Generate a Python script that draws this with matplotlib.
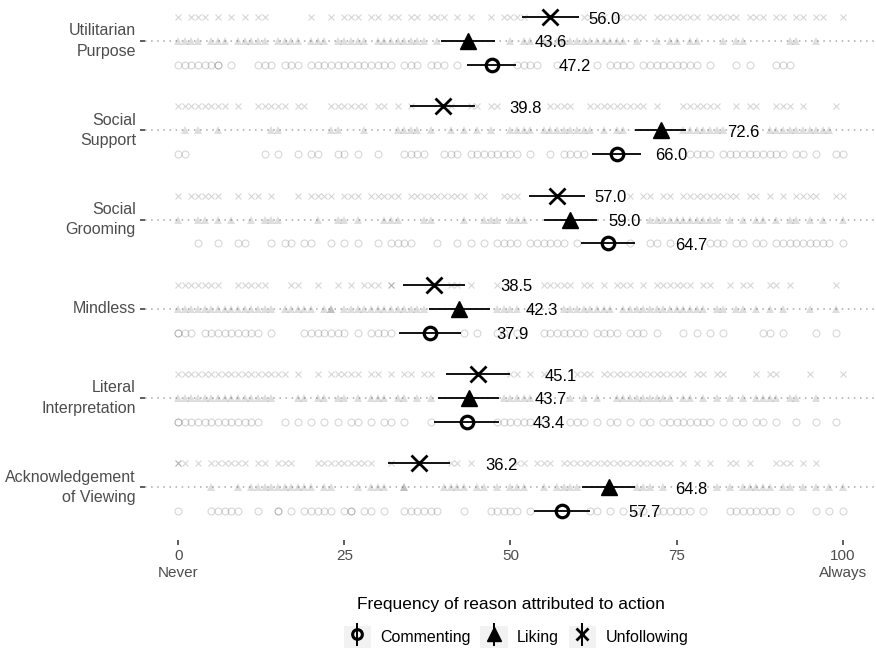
import numpy as np
import matplotlib
matplotlib.use('Agg')
import matplotlib.pyplot as plt
from matplotlib.legend_handler import HandlerErrorbar
from matplotlib.patches import Rectangle

plt.rcParams['font.family'] = 'Liberation Sans'

# -------- Data --------
categories = ['Utilitarian\nPurpose', 'Social\nSupport', 'Social\nGrooming', 'Mindless',
              'Literal\nInterpretation', 'Acknowledgement\nof Viewing']
actions = ['Commenting', 'Liking', 'Unfollowing']

mean_commenting = [47.2, 66.0, 64.7, 37.9, 43.4, 57.7]
mean_liking = [43.6, 72.6, 59.0, 42.3, 43.7, 64.8]
mean_unfollowing = [56.0, 39.8, 57.0, 38.5, 45.1, 36.2]

ci_commenting = [3.7, 3.7, 4.1, 4.7, 4.9, 4.2]
ci_liking = [4.1, 3.8, 4.0, 4.6, 4.6, 4.0]
ci_unfollowing = [4.3, 4.9, 4.2, 4.7, 4.8, 4.7]

# individual responses (one list per category)
raw_unfollowing = [
    [0, 2, 3, 4, 6, 8, 10, 12, 13, 20, 23, 25, 26, 27, 29, 30, 32, 33, 35, 36, 38, 39, 40, 42, 44, 47, 49, 50, 51, 52,
     61, 62, 64, 66, 67, 68, 69, 70, 72, 73, 74, 75, 76, 77, 78, 80, 81, 82, 83, 84, 86, 87, 88, 90, 91, 93, 94, 96, 97, 100],
    [0, 1, 2, 3, 4, 5, 6, 7, 9, 12, 13, 14, 15, 16, 18, 19, 23, 24, 25, 26, 27, 28, 30, 31, 33, 35, 41, 44, 45, 47, 48,
     56, 57, 58, 59, 62, 63, 64, 65, 66, 67, 68, 69, 70, 72, 76, 77, 78, 79, 80, 81, 84, 86, 87, 90, 91, 92, 94, 99],
    [0, 2, 3, 4, 5, 6, 9, 11, 12, 14, 18, 20, 21, 22, 23, 25, 26, 27, 29, 30, 31, 32, 33, 35, 36, 37, 38, 39, 40, 41, 42,
     43, 45, 46, 49, 50, 51, 68, 70, 71, 73, 74, 76, 77, 78, 79, 80, 81, 82, 83, 84, 86, 87, 89, 91, 93, 94, 95, 96, 99, 100],
    [0, 1, 2, 3, 4, 5, 6, 9, 10, 11, 12, 13, 17, 18, 21, 24, 26, 28, 29, 30, 32, 32, 41, 42, 44, 48, 55, 56, 57, 58, 59,
     61, 62, 64, 66, 67, 68, 70, 72, 73, 74, 75, 76, 77, 79, 80, 83, 85, 86, 89, 90, 92, 99],
    [0, 1, 2, 3, 4, 5, 6, 7, 8, 9, 10, 11, 12, 13, 14, 15, 16, 18, 21, 23, 24, 25, 26, 27, 29, 30, 32, 34, 35, 37, 38,
     50, 51, 53, 55, 60, 61, 62, 64, 65, 66, 67, 68, 69, 70, 71, 72, 73, 74, 75, 76, 78, 79, 81, 82, 87, 89, 90, 95, 100],
    [0, 0, 1, 3, 5, 6, 7, 8, 9, 10, 12, 13, 15, 16, 17, 21, 22, 23, 24, 25, 26, 27, 28, 29, 32, 41, 42, 44, 51, 52, 54,
     55, 56, 58, 59, 60, 61, 62, 63, 64, 65, 66, 67, 68, 69, 70, 71, 72, 73, 74, 76, 78, 80, 83, 84, 86, 90, 91, 92, 94, 96],
]
raw_liking = [
    [0, 1, 2, 3, 5, 6, 7, 9, 10, 11, 12, 13, 15, 16, 17, 18, 20, 21, 22, 24, 25, 26, 27, 28, 30, 31, 32, 33, 34, 35, 36,
     37, 39, 50, 52, 53, 55, 56, 57, 58, 59, 60, 61, 62, 63, 64, 65, 66, 67, 69, 72, 74, 75, 77, 78, 82, 84, 85, 92, 93, 96],
    [1, 3, 6, 14, 15, 23, 24, 28, 33, 34, 35, 36, 38, 41, 43, 45, 47, 50, 51, 52, 53, 55, 56, 57, 58, 59, 60, 61, 62, 64,
     66, 67, 76, 77, 78, 79, 80, 81, 82, 89, 90, 91, 92, 93, 94, 95, 96, 97, 98],
    [0, 3, 4, 6, 8, 11, 13, 14, 15, 21, 24, 25, 27, 31, 32, 33, 37, 38, 43, 46, 47, 48, 50, 51, 52, 71, 72, 73, 74, 75,
     76, 77, 78, 79, 80, 81, 83, 85, 87, 88, 90, 92, 93, 95, 97, 100],
    [0, 1, 2, 3, 4, 5, 6, 7, 8, 9, 10, 11, 12, 13, 14, 16, 17, 18, 19, 20, 22, 23, 23, 25, 26, 27, 28, 29, 30, 31, 32, 33,
     34, 35, 36, 37, 48, 49, 50, 51, 53, 58, 59, 60, 61, 62, 63, 64, 65, 67, 68, 69, 70, 71, 72, 73, 74, 75, 76, 77, 78,
     79, 81, 82, 84, 85, 87, 89, 91, 95, 99],
    [0, 1, 2, 3, 4, 5, 6, 7, 8, 9, 10, 11, 12, 13, 14, 18, 19, 21, 22, 24, 25, 27, 29, 30, 31, 33, 34, 36, 38, 49, 50,
     51, 52, 53, 59, 61, 63, 66, 67, 68, 69, 70, 71, 72, 73, 74, 76, 77, 79, 81, 83, 85, 87, 88, 89, 90, 92, 93, 96],
    [5, 9, 11, 12, 13, 14, 15, 16, 17, 18, 19, 20, 22, 23, 27, 29, 30, 31, 34, 34, 40, 41, 42, 43, 45, 46, 48, 50, 51,
     52, 55, 57, 58, 59, 60, 69, 70, 71, 73, 81, 83, 85, 86, 87, 88, 89, 91, 92, 94, 96, 98, 100],
]
raw_commenting = [
    [0, 1, 2, 3, 4, 5, 6, 6, 8, 12, 13, 14, 16, 17, 18, 20, 21, 22, 23, 24, 25, 26, 27, 28, 29, 30, 31, 32, 34, 35, 36,
     38, 39, 40, 42, 51, 52, 53, 54, 57, 63, 65, 66, 67, 68, 70, 71, 72, 73, 74, 75, 76, 77, 78, 80, 84, 86, 90, 91, 92],
    [0, 1, 13, 15, 18, 20, 21, 24, 25, 27, 30, 34, 35, 36, 37, 40, 41, 42, 44, 45, 46, 47, 48, 49, 50, 51, 53, 56, 58,
     59, 60, 61, 77, 78, 79, 80, 82, 83, 84, 85, 86, 87, 88, 89, 90, 91, 93, 94, 96, 99, 100],
    [3, 6, 9, 10, 14, 16, 17, 19, 20, 23, 25, 27, 30, 32, 33, 34, 35, 39, 42, 44, 46, 48, 49, 50, 51, 53, 54, 55, 56, 57,
     58, 60, 68, 71, 72, 74, 80, 81, 82, 84, 85, 87, 88, 90, 91, 92, 93, 94, 95, 96, 97, 98, 100],
    [0, 0, 1, 2, 4, 5, 6, 7, 8, 9, 10, 11, 12, 14, 19, 20, 21, 22, 23, 24, 25, 27, 29, 30, 31, 32, 43, 45, 48, 49, 51,
     55, 56, 57, 58, 59, 60, 61, 63, 64, 65, 66, 68, 69, 70, 72, 76, 78, 80, 82, 88, 89, 91, 96, 99],
    [0, 0, 1, 2, 3, 4, 5, 6, 7, 8, 9, 10, 11, 12, 16, 18, 20, 22, 24, 26, 27, 29, 31, 32, 34, 38, 48, 49, 50, 51, 52,
     53, 55, 59, 60, 61, 63, 65, 66, 68, 70, 71, 73, 74, 75, 76, 77, 78, 79, 80, 82, 84, 85, 87, 88, 90, 93, 96, 99],
    [0, 5, 6, 7, 8, 9, 12, 15, 15, 17, 19, 20, 21, 22, 23, 25, 26, 26, 28, 29, 31, 34, 35, 36, 37, 38, 39, 43, 47, 48,
     49, 50, 51, 53, 62, 63, 65, 67, 69, 70, 72, 73, 74, 75, 76, 77, 79, 83, 84, 85, 86, 87, 88, 89, 90, 92, 96, 98, 100],
]

# label shift to the right of each mean
shift_commenting = [10, 5.7, 10, 10, 10, 10]
shift_liking = [10, 10, 5.7, 10, 10, 10]
shift_unfollowing = [5.7, 10, 5.7, 10, 10, 10]

# -------- Figure --------
fig = plt.figure(figsize=(8.76, 6.55), dpi=100)
ax = fig.add_axes([0.1655, 0.1756, 0.8345, 0.8244])
for s in ax.spines.values():
    s.set_visible(False)

ypos = np.arange(len(categories))[::-1] + 1.0
off = 0.267

series = [
    ('Unfollowing', 'x', raw_unfollowing, mean_unfollowing, ci_unfollowing, shift_unfollowing, off),
    ('Liking', '^', raw_liking, mean_liking, ci_liking, shift_liking, 0.0),
    ('Commenting', 'o', raw_commenting, mean_commenting, ci_commenting, shift_commenting, -off),
]

for name, mk, raw, means, ci, shift, dy in series:
    for i, y in enumerate(ypos):
        vals = np.array(raw[i], dtype=float)
        if mk == 'o':
            ax.plot(vals, np.full(len(vals), y + dy), ls='none', marker='o', ms=5, mfc='none',
                    mec='black', mew=0.8, alpha=0.16, zorder=2)
        elif mk == 'x':
            ax.plot(vals, np.full(len(vals), y + dy), ls='none', marker='x', ms=5,
                    color='black', mew=0.8, alpha=0.16, zorder=2)
        else:
            ax.plot(vals, np.full(len(vals), y + dy), ls='none', marker='^', ms=5.4,
                    color='black', mew=0, alpha=0.13, zorder=2)
    yy = ypos + dy
    if mk == 'o':
        ax.errorbar(means, yy, xerr=ci, fmt='o', ms=9, mfc='none', mec='black', mew=2.3,
                    ecolor='black', elinewidth=1.3, capsize=0, zorder=5)
    elif mk == 'x':
        ax.errorbar(means, yy, xerr=ci, fmt='x', ms=11, mec='black', mew=2,
                    ecolor='black', elinewidth=1.3, capsize=0, zorder=5)
    else:
        ax.errorbar(means, yy, xerr=ci, fmt='^', ms=11, mfc='black', mec='black',
                    ecolor='black', elinewidth=1.3, capsize=0, zorder=5)
    for m, y, sh in zip(means, yy, shift):
        ax.text(m + sh, y - 0.02, f'{m:.1f}', fontsize=12, va='center', ha='left', zorder=6)

# ------ Axes ------
ax.set_xlim(-5, 105)
ax.set_ylim(0.41, 6.46)
ax.set_yticks(ypos)
ax.set_yticklabels(categories, fontsize=11.5, color='#4d4d4d', linespacing=1.45, va='center')
for lbl in ax.get_yticklabels():
    lbl.set_multialignment('right')
ax.set_xticks([0, 25, 50, 75, 100])
ax.set_xticklabels(['0\nNever', '25', '50', '75', '100\nAlways'], fontsize=11, color='#4d4d4d', linespacing=1.3)
ax.tick_params(axis='both', length=3.5, width=1.1, color='#333333', pad=3)
ax.yaxis.grid(True, linestyle=(0, (1, 3)), color='#aaaaaa', lw=1.1, zorder=0)
ax.xaxis.grid(False)
ax.set_axisbelow(True)
ax.set_xlabel('Frequency of reason attributed to action', fontsize=12.5, labelpad=12)

# ---- Legend ----
class BoxedKey(HandlerErrorbar):
    def create_artists(self, legend, orig_handle, xdescent, ydescent, width, height, fontsize, trans):
        arts = super().create_artists(legend, orig_handle, xdescent, ydescent, width, height, fontsize, trans)
        box = Rectangle((-xdescent, -ydescent), width, height, facecolor='#f2f2f2', edgecolor='none', transform=trans)
        return [box] + arts

h_com = ax.errorbar([np.nan], [np.nan], yerr=[1], fmt='o', ms=7, mfc='none', mec='black', mew=2.2,
                    ecolor='black', elinewidth=1.4, capsize=0)
h_lik = ax.errorbar([np.nan], [np.nan], yerr=[1], fmt='^', ms=10, color='black',
                    ecolor='black', elinewidth=1.4, capsize=0)
h_unf = ax.errorbar([np.nan], [np.nan], yerr=[1], fmt='x', ms=9, mec='black', mew=2,
                    ecolor='black', elinewidth=1.4, capsize=0)
fig.legend([h_com, h_lik, h_unf], actions, loc='center', bbox_to_anchor=(0.589, 0.027), ncol=3,
           frameon=False, fontsize=11.5, handlelength=1.7, handleheight=1.75, handletextpad=0.6,
           columnspacing=0.6, handler_map={type(h_com): BoxedKey(yerr_size=0.7)})

plt.savefig('out.png', dpi=100)
